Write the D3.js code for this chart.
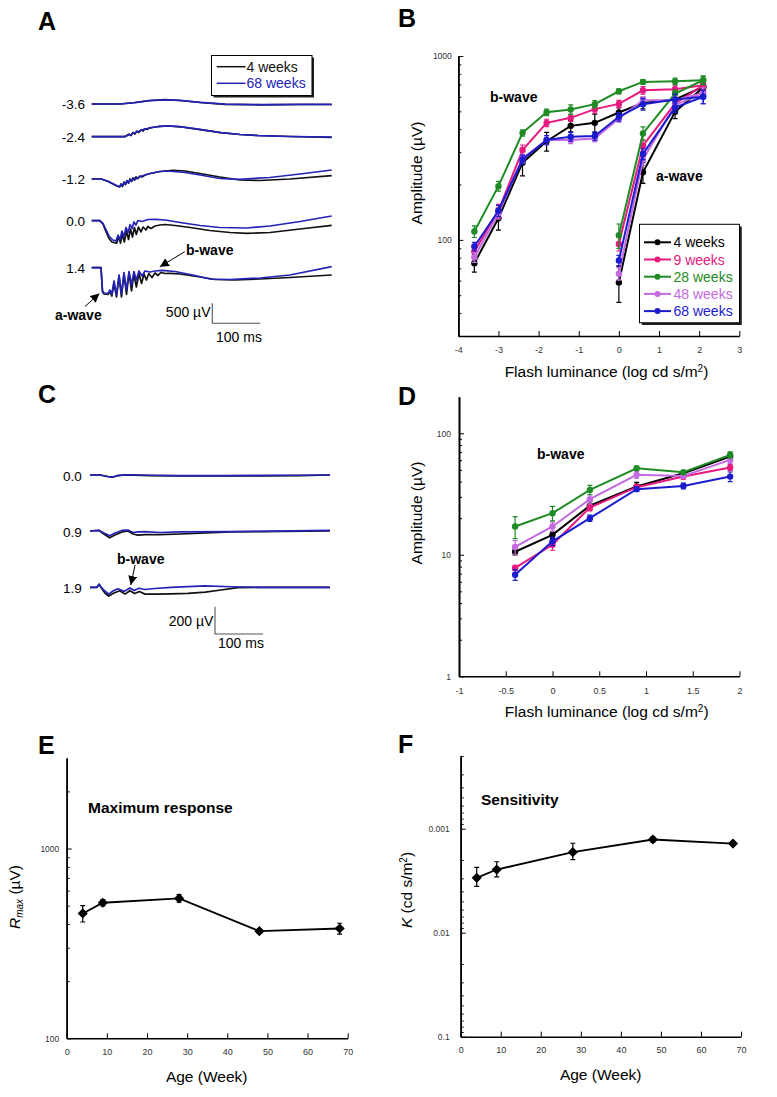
<!DOCTYPE html>
<html><head><meta charset="utf-8">
<script src="https://cdn.jsdelivr.net/npm/d3@7"></script>
<style>
body{margin:0;background:#fff}
svg{display:block}
text{font-family:"Liberation Sans",Arial,Helvetica,sans-serif}
</style>
</head><body>
<svg id="fig" width="777" height="1097"></svg>
<script>
// ================= DATA =================
const ageLabels = ["4 weeks","9 weeks","28 weeks","48 weeks","68 weeks"];
// Panel A: ERG traces [time ms, amplitude µV]
const flashA = ["-3.6","-2.4","-1.2","0.0","1.4"];
const a36_w4  = [[0,0],[59,0],[90,38],[121,88],[153,108],[184,88],[226,38],[278,-8],[351,-20],[434,-12],[500,-12]];
const a36_w68 = [[0,0],[59,0],[90,35],[121,85],[153,105],[184,90],[226,42],[278,-5],[351,-15],[434,-10],[500,-8]];
const a24_w4  = [[0,0],[69,0],[78,65],[82,30],[86,105],[90,68],[94,140],[98,105],[103,172],[107,142],[111,198],[115,180],[121,222],[132,242],[142,260],[159,268],[184,248],[222,185],[269,100],[309,55],[347,30],[413,5],[500,-15]];
const a24_w68 = [[0,0],[69,0],[78,50],[82,40],[86,100],[90,85],[94,135],[98,125],[103,165],[111,192],[121,218],[132,242],[142,260],[159,272],[184,252],[222,188],[269,102],[309,55],[347,28],[413,5],[500,-12]];
const a12_w4  = [[0,0],[20,0],[34,-62],[46.5,-138],[54.8,-188],[58.3,-200],[61,-125],[64.2,-188],[67.3,-75],[70.4,-138],[73.5,-38],[76.7,-100],[79.8,0],[82.9,-62],[86,25],[89.2,-25],[92.3,50],[96.5,12],[100.6,75],[104.8,50],[111,100],[121.5,138],[142.3,188],[169.4,218],[194.4,200],[225.6,138],[267.3,50],[309,-25],[350.6,-38],[413,0],[500,82]];
const a12_w68 = [[0,0],[20,0],[34,-55],[46.5,-130],[54.8,-180],[58,-188],[61,-138],[64,-175],[67,-88],[70,-138],[74,-50],[77,-100],[80,-12],[84,-50],[88,25],[92,0],[101,62],[111,100],[122,138],[142,188],[159,200],[194,162],[226,100],[267,12],[309,-8],[371,38],[434,125],[500,225]];
const a00_w4  = [[0,0],[17,0],[23.5,-82],[30,-282],[36,-445],[42,-532],[52,-565],[56,-408],[60,-558],[64,-332],[68,-532],[72.5,-258],[76.7,-470],[80.8,-208],[85,-408],[89,-170],[93,-345],[97.5,-158],[102.7,-282],[107,-158],[113,-232],[117,-145],[123.5,-195],[132,-132],[142,-108],[153,-95],[173.5,-120],[205,-170],[246,-245],[288,-295],[323.5,-315],[371.5,-295],[434,-208],[500,-115]];
const a00_w68 = [[0,0],[17,0],[23.5,-70],[30,-232],[36,-382],[44,-482],[50.6,-508],[55,-358],[59,-482],[63,-258],[67,-395],[71.5,-170],[75.6,-295],[80,-95],[84,-195],[88,-32],[92,-108],[96.5,5],[105,-20],[117,30],[132,35],[153,18],[184,-45],[226,-120],[267,-170],[323.5,-182],[371.5,-132],[434,-20],[500,118]];
const a14_w4  = [[0,0],[19.4,0],[22.5,-608],[25.6,-658],[34,-670],[38,-595],[42,-708],[46.5,-382],[51.7,-732],[57,-208],[62,-732],[67.3,-158],[72.5,-670],[77.7,-132],[83,-582],[88,-145],[93,-482],[98.5,-145],[103.8,-395],[109,-158],[114,-308],[119,-145],[125.6,-245],[132,-132],[138,-195],[144,-120],[153,-145],[163,-140],[184,-158],[226,-232],[257,-295],[298.5,-308],[350.6,-282],[413,-245],[500,-182]];
const a14_w68 = [[0,0],[19.4,0],[22.5,-582],[25.6,-632],[34,-645],[38,-558],[42,-658],[46.5,-332],[51.7,-682],[57,-182],[62,-658],[67.3,-120],[72.5,-558],[77.7,-95],[83,-432],[88,-95],[93,-308],[98.5,-82],[105,-208],[111,-82],[121.5,-108],[132,-82],[146.5,-65],[173.5,-95],[215.5,-195],[246.5,-282],[288,-295],[350.6,-258],[413,-182],[500,25]];

// Panel B: amplitudes (µV)
const lumB = [-3.6,-3.0,-2.4,-1.8,-1.2,-0.6,0,0.6,1.4,2.1];
const bW4  = [74.7,131,263,344,417,433,493,556,580,679];
const bW9  = [86.5,144,308,433,461,514,549,651,659,693];
const bW28 = [111,196,382,494,512,547,643,723,729,738];
const bW48 = [80.5,139.6,277,349,349,356,457,575,575,630];
const bW68 = [92,144,274,349,364,367,467,547,580,600];
const bErr4  = [8,18,40,40,30,50,30,40,30,40];
const bErr9  = [6,12,20,20,20,25,25,30,30,40];
const bErr28 = [8,12,15,20,30,25,20,20,30,40];
const bErr48 = [5,10,15,20,15,15,20,25,25,40];
const bErr68 = [5,10,15,20,20,20,25,40,40,50];
const lumA = [0,0.6,1.4,2.1];
const aW4  = [58.7,233,497,673];
const aW9  = [95,325,551,693];
const aW28 = [106,379,625,738];
const aW48 = [65.4,274,540,630];
const aW68 = [77.3,293,524,600];
const aErr4  = [13,30,40,40];
const aErr9  = [8,25,30,40];
const aErr28 = [16,33,30,40];
const aErr48 = [5,20,25,40];
const aErr68 = [5,20,30,50];
const tickB = [-4,-3,-2,-1,0,1,2,3];

// Panel C: traces
const flashC = ["0.0","0.9","1.9"];
const c00_w4  = [[0,0],[21,0],[37.5,-11],[48,-15],[58,-4],[73,1],[125,-4],[187.5,-7],[271,-7],[354,-6],[437.5,-4],[500,0]];
const c00_w68 = [[0,0],[21,0],[37.5,-13],[48,-15],[58,-4],[73,2],[125,-2],[187.5,-5],[271,-4],[354,-3],[437.5,-2],[500,0]];
const c09_w4  = [[0,0],[19,4],[29,-22],[41,-50],[52,-30],[66.7,-7],[79,0],[89.6,-22],[100,-30],[114.6,-26],[146,-26],[187.5,-22],[229,-15],[291.7,-7],[354,-4],[500,0]];
const c09_w68 = [[0,0],[19,4],[29,-15],[41,-35],[52,-15],[66.7,4],[79,7],[89.6,-11],[100,-7],[114.6,-4],[146,-11],[187.5,-7],[291.7,-4],[500,4]];
const c19_w4  = [[0,0],[14.6,0],[19,22],[23,-2],[31,-42],[39,-64],[50,-42],[62,-25],[73,-50],[83,-25],[93,-46],[103,-31],[114.6,-50],[135,-50],[167,-48],[204,-44],[240,-35],[273,-20],[308,-3],[354,0],[500,0]];
const c19_w68 = [[0,0],[14.6,0],[19,22],[23,2],[31,-27],[39,-50],[48,-27],[58,-10],[71,-30],[83,-5],[92,-24],[102,-7],[114.6,-16],[135,-9],[169,0],[239,10],[294,4],[354,0],[500,0]];

// Panel D: b-wave amplitudes (µV)
const lumD = [-0.4,0,0.4,0.9,1.4,1.9];
const dW4  = [10.6,14.6,25.4,36.5,46.9,64.3];
const dW9  = [7.8,12.1,24.5,36,44,52.2];
const dW28 = [17.1,22,34.2,51.5,47.8,66.4];
const dW48 = [11.6,17.1,28.7,45.5,44.6,60.4];
const dW68 = [6.85,12.9,20,34.7,36.9,44];
const dErr4  = [0.6,1,2,3,2,4];
const dErr9  = [0.4,1.2,1.5,2,2,3];
const dErr28 = [3.5,3,3,2,1.5,4];
const dErr48 = [1.5,1.5,2.5,3,2,4];
const dErr68 = [0.7,1,1.2,1.5,2,4];
const tickD = [-1,-0.5,0,0.5,1,1.5,2];

// Panel E / F
const ageWeeks = [4,9,28,48,68];
const rmax = [455,518,546,367,379];
const rmaxErr = [45,20,25,8,25];
const kVal = [0.00297,0.00247,0.00168,0.00127,0.00139];
const kLo  = [0.00235,0.00208,0.00138,0.00120,0.00133];
const kHi  = [0.00358,0.00290,0.00198,0.00134,0.00145];
const tickAge = [0,10,20,30,40,50,60,70];

// ================= STYLE =================
const palette = ["#000000","#e6197f","#1f8b24","#c46ae0","#1c1ccf"];
const traceCol = ["#111111","#2323b8"];
const svg = d3.select("#fig");
const hy = f => (d => f(d).replace("\u2212","-"));

// panel letters
[["A",38,30],["B",398,27],["C",38,403],["D",398,405],["E",38,754],["F",398,753]].forEach(([t,x,y])=>{
  svg.append("text").attr("x",x).attr("y",y).attr("font-size",25).attr("font-weight","bold").text(t);
});

svg.append("defs").append("marker").attr("id","arr").attr("viewBox","0 0 10 10")
  .attr("refX",10).attr("refY",5).attr("markerWidth",9).attr("markerHeight",9)
  .attr("markerUnits","userSpaceOnUse").attr("orient","auto")
  .append("path").attr("d","M0,0L10,5L0,10Z").attr("fill","#000");

function styleAxis(g, fs){
  g.select(".domain").attr("stroke","#000").attr("stroke-width",1.6);
  g.selectAll(".tick line").attr("stroke","#000").attr("stroke-width",1);
  g.selectAll(".tick text").attr("font-size",fs).attr("fill","#333")
    .attr("font-family","'Liberation Sans',Arial,sans-serif");
}
function yAxis(scale, x, majors, minors, fmt, pad){
  const g1 = svg.append("g").attr("transform",`translate(${x},0)`)
    .call(d3.axisLeft(scale).tickValues(minors).tickSize(-3).tickSizeOuter(0).tickFormat(""));
  styleAxis(g1, 9);
  const g2 = svg.append("g").attr("transform",`translate(${x},0)`)
    .call(d3.axisLeft(scale).tickValues(majors).tickSize(-5).tickSizeOuter(0).tickPadding(pad).tickFormat(fmt));
  styleAxis(g2, 8.5);
}
function xAxis(scale, y, ticks, fmt, pad){
  const g = svg.append("g").attr("transform",`translate(0,${y})`)
    .call(d3.axisBottom(scale).tickValues(ticks).tickSize(-5).tickSizeOuter(0).tickPadding(pad).tickFormat(fmt));
  styleAxis(g, 9);
}
function minorsFor(decades){ const m=[]; decades.forEach(d=>{for(let k=2;k<=9;k++) m.push(+(k*d).toPrecision(3));}); return m; }

function vTitle(x,y,parts){
  const t = svg.append("text").attr("transform",`translate(${x},${y}) rotate(-90)`)
    .attr("text-anchor","middle").attr("font-size",15.5);
  parts.forEach(p=>{
    const s=t.append("tspan").text(p.t);
    if(p.it) s.attr("font-style","italic");
    if(p.sup) s.attr("font-size",10).attr("baseline-shift","super");
  });
  return t;
}
function hTitle(x,y,parts){
  const t = svg.append("text").attr("x",x).attr("y",y).attr("text-anchor","middle").attr("font-size",15.5);
  parts.forEach(p=>{
    const s=t.append("tspan").text(p.t);
    if(p.sup) s.attr("font-size",10).attr("baseline-shift","super");
  });
}
function label(x,y,txt,fs,bold,anchor,col){
  svg.append("text").attr("x",x).attr("y",y).attr("font-size",fs)
    .attr("font-weight",bold?"bold":"normal").attr("text-anchor",anchor||"start")
    .attr("fill",col||"#000").text(txt);
}

// ================= PANEL A =================
(function(){
  const x = d3.scaleLinear().domain([0,500]).range([91.7,331.7]);
  const y = d3.scaleLinear().domain([0,500]).range([0,-20]);
  const rows = [104,136.7,179,220.7,267.7];
  const traces = [[a36_w4,a36_w68],[a24_w4,a24_w68],[a12_w4,a12_w68],[a00_w4,a00_w68],[a14_w4,a14_w68]];
  const line = d3.line().x(d=>x(d[0])).y(d=>y(d[1]));
  traces.forEach((pair,i)=>{
    const g = svg.append("g").attr("transform",`translate(0,${rows[i]})`);
    pair.forEach((tr,j)=>g.append("path").attr("d",line(tr)).attr("fill","none")
      .attr("stroke",traceCol[j]).attr("stroke-width",1.7).attr("stroke-linejoin","round"));
    label(85, rows[i]+5, flashA[i], 13.5, false, "end");
  });
  svg.append("rect").attr("x",213.5).attr("y",57.5).attr("width",100.5).attr("height",40).attr("fill","#222");
  svg.append("rect").attr("x",211.5).attr("y",55.5).attr("width",100.5).attr("height",40).attr("fill","#fff").attr("stroke","#000").attr("stroke-width",1);
  ["4 weeks","68 weeks"].forEach((t,j)=>{
    const yy = 66.7 + j*16.6;
    svg.append("line").attr("x1",216.7).attr("x2",245.5).attr("y1",yy).attr("y2",yy).attr("stroke",traceCol[j]).attr("stroke-width",1.5);
    label(246.5, yy+5, t, 14, false, "start", traceCol[j]);
  });
  const bx = 212.3, by = 323.3;
  svg.append("path").attr("d",`M${bx},${by+y(500)}V${by}H${bx + x(100)-x(0)}`)
    .attr("fill","none").attr("stroke","#555").attr("stroke-width",1.1);
  label(210.5, 316.5, "500 \u00b5V", 14, false, "end");
  label(216, 342, "100 ms", 14, false, "start");
  const r = rows[4];
  svg.append("line").attr("x1",x(194)).attr("y1",r+y(400)).attr("x2",x(142)).attr("y2",r+y(25))
    .attr("stroke","#000").attr("stroke-width",1).attr("marker-end","url(#arr)");
  label(186, 254.5, "b-wave", 14, true);
  svg.append("line").attr("x1",x(-14)).attr("y1",r+y(-970)).attr("x2",x(16)).attr("y2",r+y(-645))
    .attr("stroke","#000").attr("stroke-width",1).attr("marker-end","url(#arr)");
  label(55, 319.5, "a-wave", 14, true);
})();

// ================= PANEL B =================
(function(){
  const x = d3.scaleLinear().domain([-4,3]).range([458.3,739.3]);
  const y = d3.scaleLog().domain([30,1000]).range([336,56]);
  const bSeries = [bW4,bW9,bW28,bW48,bW68], bErrs=[bErr4,bErr9,bErr28,bErr48,bErr68];
  const aSeries = [aW4,aW9,aW28,aW48,aW68], aErrs=[aErr4,aErr9,aErr28,aErr48,aErr68];
  yAxis(y, 458.3, [100,1000], minorsFor([10,100]).filter(v=>v>=40 && v<1000), d3.format("d"), 6.5);
  xAxis(x, 336, tickB, hy(d3.format("d")), 11);
  const line = d3.line().x(d=>x(d[0])).y(d=>y(d[1]));
  function drawSeries(xs, vals, errs, col){
    const pts = xs.map((v,k)=>[v,vals[k],errs[k]]);
    const g = svg.append("g");
    g.append("path").attr("d",line(pts)).attr("fill","none").attr("stroke",col).attr("stroke-width",2);
    pts.forEach(p=>{
      g.append("path").attr("d",`M${x(p[0])},${y(p[1]-p[2])}V${y(p[1]+p[2])}M${x(p[0])-2.5},${y(p[1]-p[2])}h5M${x(p[0])-2.5},${y(p[1]+p[2])}h5`)
        .attr("stroke",col).attr("stroke-width",1.2).attr("fill","none");
      g.append("circle").attr("cx",x(p[0])).attr("cy",y(p[1])).attr("r",3.2).attr("fill",col);
    });
  }
  for(let i=0;i<5;i++){
    drawSeries(lumB, bSeries[i], bErrs[i], palette[i]);
    drawSeries(lumA, aSeries[i], aErrs[i], palette[i]);
  }
  vTitle(422, 173, [{t:"Amplitude ("},{t:"\u00b5"},{t:"V)"}]);
  hTitle(606.5, 377, [{t:"Flash luminance (log cd s/m"},{t:"2",sup:true},{t:")"}]);
  label(490, 102, "b-wave", 14, true);
  label(656, 180.5, "a-wave", 14, true);
  svg.append("rect").attr("x",641.8).attr("y",226.5).attr("width",100).attr("height",98.5).attr("fill","#222");
  svg.append("rect").attr("x",639.5).attr("y",224.3).attr("width",100).attr("height",98.5).attr("fill","#fff").attr("stroke","#000").attr("stroke-width",1);
  ageLabels.forEach((t,i)=>{
    const yy = 242.3 + i*17.2;
    svg.append("line").attr("x1",644).attr("x2",671).attr("y1",yy).attr("y2",yy).attr("stroke",palette[i]).attr("stroke-width",2);
    svg.append("circle").attr("cx",657.5).attr("cy",yy).attr("r",3).attr("fill",palette[i]);
    label(673.5, yy+5, t, 14, false, "start", palette[i]);
  });
})();

// ================= PANEL C =================
(function(){
  const x = d3.scaleLinear().domain([0,500]).range([90,330]);
  const y = d3.scaleLinear().domain([0,200]).range([0,-27.3]);
  const rows = [475,531,587.3];
  const traces = [[c00_w4,c00_w68],[c09_w4,c09_w68],[c19_w4,c19_w68]];
  const line = d3.line().x(d=>x(d[0])).y(d=>y(d[1]));
  traces.forEach((pair,i)=>{
    const g = svg.append("g").attr("transform",`translate(0,${rows[i]})`);
    pair.forEach((tr,j)=>g.append("path").attr("d",line(tr)).attr("fill","none")
      .attr("stroke",traceCol[j]).attr("stroke-width",1.7).attr("stroke-linejoin","round"));
    label(81.7, rows[i]+5.5, flashC[i], 13.5, false, "end");
  });
  const bx = 215, by = 634;
  svg.append("path").attr("d",`M${bx},${by+y(200)}V${by}H${bx + x(100)-x(0)}`)
    .attr("fill","none").attr("stroke","#555").attr("stroke-width",1.1);
  label(213.3, 626, "200 \u00b5V", 14, false, "end");
  label(218, 647.5, "100 ms", 14, false, "start");
  const r = rows[2];
  svg.append("line").attr("x1",x(94)).attr("y1",r+y(165)).attr("x2",x(85)).attr("y2",r+y(17))
    .attr("stroke","#000").attr("stroke-width",1).attr("marker-end","url(#arr)");
  label(117, 564, "b-wave", 14, true);
})();

// ================= PANEL D =================
(function(){
  const x = d3.scaleLinear().domain([-1,2]).range([459,739.5]);
  const y = d3.scaleLog().domain([1,200]).range([676.3,396.7]);
  yAxis(y, 459, [1,10,100], minorsFor([1,10]), d3.format("d"), 8);
  xAxis(x, 676.3, tickD, hy(d3.format("~g")), 11);
  const series=[dW4,dW9,dW28,dW48,dW68], errs=[dErr4,dErr9,dErr28,dErr48,dErr68];
  const line = d3.line().x(d=>x(d[0])).y(d=>y(d[1]));
  const order=[0,1,4,3,2];
  order.forEach(i=>{
    const pts = lumD.map((v,k)=>[v,series[i][k],errs[i][k]]);
    const g = svg.append("g");
    g.append("path").attr("d",line(pts)).attr("fill","none").attr("stroke",palette[i]).attr("stroke-width",2);
    pts.forEach(p=>{
      g.append("path").attr("d",`M${x(p[0])},${y(p[1]-p[2])}V${y(p[1]+p[2])}M${x(p[0])-2.5},${y(p[1]-p[2])}h5M${x(p[0])-2.5},${y(p[1]+p[2])}h5`)
        .attr("stroke",palette[i]).attr("stroke-width",1.2).attr("fill","none");
      g.append("circle").attr("cx",x(p[0])).attr("cy",y(p[1])).attr("r",3.2).attr("fill",palette[i]);
    });
  });
  vTitle(422, 513, [{t:"Amplitude ("},{t:"\u00b5"},{t:"V)"}]);
  hTitle(606.7, 716.5, [{t:"Flash luminance (log cd s/m"},{t:"2",sup:true},{t:")"}]);
  label(537, 458.5, "b-wave", 14, true);
})();

// ================= PANEL E =================
(function(){
  const x = d3.scaleLinear().domain([0,70]).range([66.7,347.7]);
  const y = d3.scaleLog().domain([100,3000]).range([1038.3,758]);
  yAxis(y, 66.7, [100,1000], minorsFor([100]).concat([2000]), d3.format("d"), 7.4);
  xAxis(x, 1038.3, tickAge, d3.format("d"), 10);
  const pts = ageWeeks.map((a,k)=>[a,rmax[k],rmaxErr[k]]);
  svg.append("path").attr("d",d3.line().x(d=>x(d[0])).y(d=>y(d[1]))(pts)).attr("fill","none").attr("stroke","#000").attr("stroke-width",1.8);
  pts.forEach(p=>{
    svg.append("path").attr("d",`M${x(p[0])},${y(p[1]-p[2])}V${y(p[1]+p[2])}M${x(p[0])-2.5},${y(p[1]-p[2])}h5M${x(p[0])-2.5},${y(p[1]+p[2])}h5`)
      .attr("stroke","#000").attr("stroke-width",1.2).attr("fill","none");
    svg.append("path").attr("d",d3.symbol(d3.symbolSquare,52)()).attr("transform",`translate(${x(p[0])},${y(p[1])}) rotate(45)`).attr("fill","#000");
  });
  const t = svg.append("text").attr("transform","translate(20,897) rotate(-90)").attr("text-anchor","middle").attr("font-size",15.5);
  t.append("tspan").attr("font-style","italic").text("R");
  t.append("tspan").attr("font-style","italic").attr("font-size",10).attr("dy",3).text("max");
  t.append("tspan").attr("dy",-3).text(" (\u00b5V)");
  hTitle(206.7, 1082, [{t:"Age (Week)"}]);
  label(88, 813, "Maximum response", 15.5, true);
})();

// ================= PANEL F =================
(function(){
  const x = d3.scaleLinear().domain([0,70]).range([460.7,741]);
  const y = d3.scaleLog().domain([0.1,0.0002]).range([1036.7,756]);
  yAxis(y, 460.7, [0.1,0.01,0.001], minorsFor([0.01,0.001,0.0001]).filter(v=>v<0.1), d=>String(d), 11);
  xAxis(x, 1036.7, tickAge, d3.format("d"), 10);
  svg.append("path").attr("d",d3.line().x((a,k)=>x(a)).y((a,k)=>y(kVal[k]))(ageWeeks)).attr("fill","none").attr("stroke","#000").attr("stroke-width",1.8);
  ageWeeks.forEach((a,k)=>{
    svg.append("path").attr("d",`M${x(a)},${y(kLo[k])}V${y(kHi[k])}M${x(a)-2.5},${y(kLo[k])}h5M${x(a)-2.5},${y(kHi[k])}h5`)
      .attr("stroke","#000").attr("stroke-width",1.2).attr("fill","none");
    svg.append("path").attr("d",d3.symbol(d3.symbolSquare,52)()).attr("transform",`translate(${x(a)},${y(kVal[k])}) rotate(45)`).attr("fill","#000");
  });
  const t = svg.append("text").attr("transform","translate(412,890) rotate(-90)").attr("text-anchor","middle").attr("font-size",15.5);
  t.append("tspan").attr("font-style","italic").text("K");
  t.append("tspan").text(" (cd s/m");
  t.append("tspan").attr("font-size",10).attr("baseline-shift","super").text("2");
  t.append("tspan").text(")");
  hTitle(600.7, 1080, [{t:"Age (Week)"}]);
  label(481, 804.5, "Sensitivity", 15.5, true);
})();
</script>
</body></html>
